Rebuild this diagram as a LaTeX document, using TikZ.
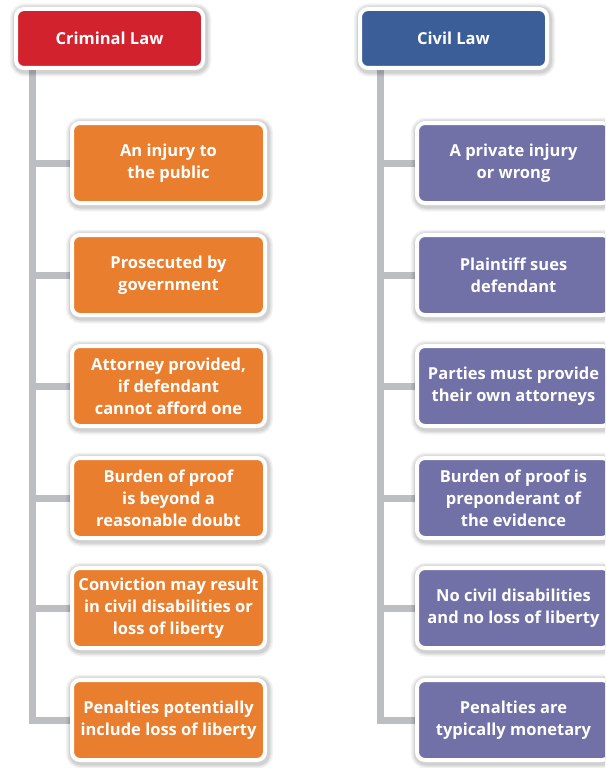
\documentclass[tikz,border=0pt]{standalone}
\usepackage{fontspec}
\setmainfont{Open Sans}
\usetikzlibrary{backgrounds}

\definecolor{crimred}{RGB}{210,34,45}
\definecolor{crimorange}{RGB}{232,126,46}
\definecolor{civblue}{RGB}{59,94,152}
\definecolor{civpurple}{RGB}{113,112,167}
\definecolor{stemgray}{RGB}{189,190,194}

\tikzset{
    lawbox/.style={draw=white, line width=4pt, rounded corners=8pt,
        text=white, align=center, inner sep=0pt,
        font=\bfseries\fontsize{16.5}{22}\selectfont,
        minimum width=193pt, minimum height=80pt,
        preaction={draw=black, opacity=0.05, line width=14pt,
            transform canvas={shift={(1pt,-1.5pt)}}},
        preaction={draw=black, opacity=0.06, line width=11pt,
            transform canvas={shift={(1pt,-1.5pt)}}},
        preaction={draw=black, opacity=0.08, line width=8pt,
            transform canvas={shift={(1pt,-1.5pt)}}}},
    headbox/.style={lawbox, minimum width=187pt, minimum height=59pt,
        font=\bfseries\fontsize{16.5}{22}\selectfont},
    stem/.style={draw=stemgray, line width=7pt}
}

\begin{document}
\begin{tikzpicture}[x=1pt,y=-1pt]
    \clip (0,0) rectangle (605,768);

    \coordinate (CL) at (32,0);
    \coordinate (VL) at (380,0);

    %%% criminal law
    \node[headbox, fill=crimred] (crim) at (109.5,38.5) {Criminal Law};

    \node[lawbox, fill=crimorange] (c1) at (168.5,163) {An injury to\\the public};
    \node[lawbox, fill=crimorange] (c2) at (168.5,275) {Prosecuted by\\government};
    \node[lawbox, fill=crimorange] (c3) at (168.5,386) {Attorney provided,\\if defendant\\cannot afford one};
    \node[lawbox, fill=crimorange] (c4) at (168.5,498) {Burden of proof\\is beyond a\\reasonable doubt};
    \node[lawbox, fill=crimorange] (c5) at (168.5,608) {Conviction may result\\in civil disabilities or\\loss of liberty};
    \node[lawbox, fill=crimorange] (c6) at (168.5,720) {Penalties potentially\\include loss of liberty};

    %%% civil law
    \node[headbox, fill=civblue] (civ) at (453.5,38.5) {Civil Law};

    \node[lawbox, fill=civpurple] (v1) at (513.5,163) {A private injury\\or wrong};
    \node[lawbox, fill=civpurple] (v2) at (513.5,275) {Plaintiff sues\\defendant};
    \node[lawbox, fill=civpurple] (v3) at (513.5,386) {Parties must provide\\their own attorneys};
    \node[lawbox, fill=civpurple] (v4) at (513.5,498) {Burden of proof is\\preponderant of\\the evidence};
    \node[lawbox, fill=civpurple] (v5) at (513.5,608) {No civil disabilities\\and no loss of liberty};
    \node[lawbox, fill=civpurple] (v6) at (513.5,720) {Penalties are\\typically monetary};

    %%% stems behind the boxes
    \begin{scope}[on background layer]
        \fill[white] (0,0) rectangle (605,768);

        \draw[stem] (crim.south -| CL) -- (CL |- c6.west) -- (c6.west);
        \draw[stem] (CL |- c1.west) -- (c1.west);
        \draw[stem] (CL |- c2.west) -- (c2.west);
        \draw[stem] (CL |- c3.west) -- (c3.west);
        \draw[stem] (CL |- c4.west) -- (c4.west);
        \draw[stem] (CL |- c5.west) -- (c5.west);

        \draw[stem] (civ.south -| VL) -- (VL |- v6.west) -- (v6.west);
        \draw[stem] (VL |- v1.west) -- (v1.west);
        \draw[stem] (VL |- v2.west) -- (v2.west);
        \draw[stem] (VL |- v3.west) -- (v3.west);
        \draw[stem] (VL |- v4.west) -- (v4.west);
        \draw[stem] (VL |- v5.west) -- (v5.west);
    \end{scope}
\end{tikzpicture}
\end{document}
